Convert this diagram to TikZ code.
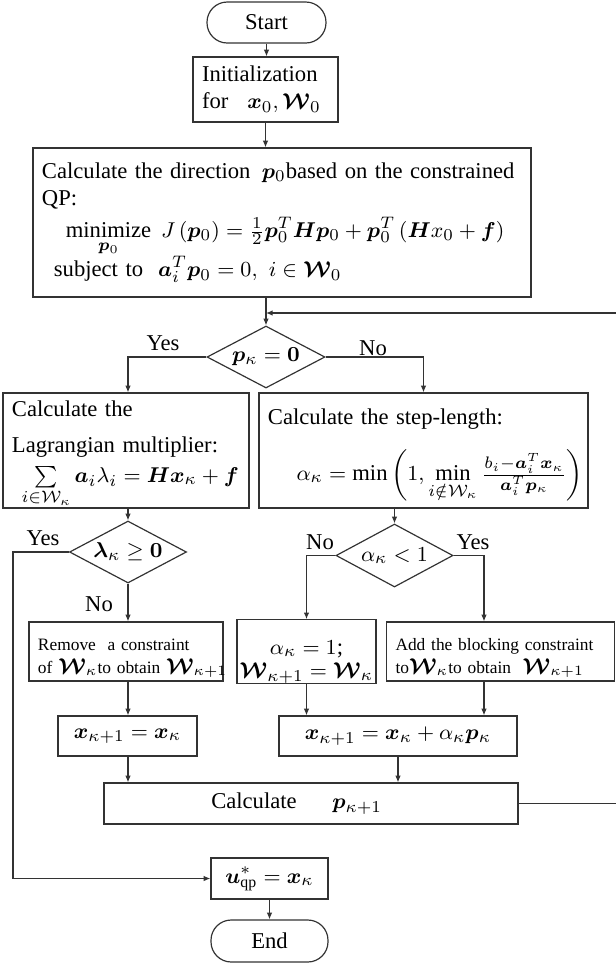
\documentclass[tikz,border=0pt]{standalone}
\usepackage{amsmath}
\usepackage{bm}
\usepackage{fontspec}
\setmainfont{Liberation Serif}
\usetikzlibrary{shapes.geometric,arrows.meta,calc}
\tikzset{
  base/.style={draw=black!80, line width=0.5pt, inner sep=0pt, font=\fontsize{9.5}{11.4}\selectfont},
  box/.style={base, rectangle},
  term/.style={base, rectangle, rounded corners=8.5pt},
  dec/.style={base, diamond, aspect=1.9},
  sz/.style 2 args={minimum width={#1*0.42pt}, minimum height={#2*0.42pt}},
  tw/.style 2 args={text width={(#1-18)*0.42pt}, inner xsep={9*0.42pt}, minimum height={#2*0.42pt}, align=left},
  smallfont/.style={font=\fontsize{7.3}{9.6}\selectfont},
  conn/.style={draw=black!80, line width=0.5pt, -{Latex[length=2.8pt,width=2.3pt]}},
  lab/.style={font=\fontsize{9.5}{11.4}\selectfont, inner sep=0pt}
}
\newcommand{\mbigw}[1]{{\fontsize{9}{9}\selectfont$#1$}}
\begin{document}
\begin{tikzpicture}[x=0.42pt,y=-0.42pt]
\useasboundingbox (0,0) rectangle (616,964);
\coordinate (fbrow) at (0,313);
\coordinate (fbx) at (622,0);
\coordinate (leftx) at (13,0);
\coordinate (ax) at (484,0);

\node[term, sz={119}{41}] (start) at (266.5,22.5) {Start};
\node[box, tw={145}{65}] (init) at (265.5,89.5) {\mbox{Initialization}\\\mbox{for\hspace{8pt}$\bm x_0,\bm{\mathcal W}_0$}};
\node[box, tw={498}{149}] (qp) at (282,222.5) {\mbox{Calculate the direction \,$\bm p_0$based on the constrained}\\QP:\\[2pt]
\mbox{\hspace*{10pt}$\underset{\bm p_0}{\text{minimize}}\;\, J\left(\bm p_0\right)=\tfrac12\bm p_0^T\bm H\bm p_0+\bm p_0^T\left(\bm Hx_0+\bm f\right)$}\\[-1pt]
\mbox{\hspace*{5pt}subject to \ $\bm a_i^T\bm p_0=0,\ i\in\bm{\mathcal W}_0$}};
\node[dec, sz={118}{62}] (d1) at (266,357) {$\bm p_\kappa=\bm 0$};

\node[box, tw={246}{115}] (lb) at (126,450.5) {\mbox{\rule{0pt}{9.5pt}Calculate the}\\[4pt]\mbox{Lagrangian multiplier:}\\[1pt]\mbox{\hspace*{4pt}$\sum\limits_{i\in\mathcal W_\kappa}\bm a_i\lambda_i=\bm H\bm x_\kappa+\bm f$}};
\node[box, tw={329}{115}] (rb) at (423.5,450.5) {\mbox{\rule{0pt}{10.4pt}Calculate the step-length:}\\[7.4pt]\mbox{\hspace*{12pt}$\displaystyle\alpha_\kappa=\min\left(1,\min_{i\notin\mathcal W_\kappa}\tfrac{b_i-\bm a_i^T\bm x_\kappa}{\bm a_i^T\bm p_\kappa}\right)$}};

\node[dec, sz={117}{62}] (d2) at (128,552) {$\bm\lambda_\kappa\geq\bm 0$};
\node[dec, sz={117}{63}] (d3) at (394.5,555.5) {$\alpha_\kappa<1$};

\node[box, tw={194}{59}, smallfont] (rm) at (126,651.5) {\mbox{\rule{0pt}{10.5pt}Remove\ \ a constraint}\\\mbox{of \mbigw{\bm{\mathcal W}_\kappa}to obtain \mbigw{\bm{\mathcal W}_{\kappa+1}}}};
\node[box, sz={139}{59}, align=center] (ab) at (306.5,651.5) {\rule{0pt}{14.5pt}$\alpha_\kappa=1$;\\[-1.5pt]$\bm{\mathcal W}_{\kappa+1}=\bm{\mathcal W}_\kappa$};
\node[box, tw={228}{59}, smallfont] (ad) at (500.5,651.5) {\mbox{\rule{0pt}{10.5pt}Add the blocking constraint}\\\mbox{to\mbigw{\bm{\mathcal W}_\kappa}to obtain \ \mbigw{\bm{\mathcal W}_{\kappa+1}}}};

\node[box, sz={139}{40}] (xs) at (127.5,736) {$\bm x_{\kappa+1}=\bm x_\kappa$};
\node[box, sz={238}{40}] (xb) at (398,736) {$\bm x_{\kappa+1}=\bm x_\kappa+\alpha_\kappa\bm p_\kappa$};
\node[box, sz={414}{41}] (calc) at (311,803.5) {Calculate\hspace{15pt}$\bm p_{\kappa+1}$\kern12pt\relax};
\node[box, sz={117}{41}] (u) at (269.5,878.5) {$\bm u^*_{\mathrm{qp}}=\bm x_\kappa$};
\node[term, sz={117}{42}] (end) at (269.5,941) {End};

\node[lab] (y1) at (163,343) {Yes};
\node[lab] (n1) at (373,348) {No};
\node[lab] (y2) at (43,538) {Yes};
\node[lab] (n2) at (99,604) {No};
\node[lab] (n3) at (320,542) {No};
\node[lab] (y3) at (473,542) {Yes};

\draw[conn] (start.south) -- (start.south |- init.north);
\draw[conn] (init.south) -- (init.south |- qp.north);
\draw[conn] (d1.north |- qp.south) -- (d1.north);
\draw[conn] (calc.east) -- (calc.east -| fbx) |- (d1.north |- fbrow);
\draw[conn] (d1.west) -| (d2.north |- lb.north);
\draw[conn] (d1.east) -| (rb.north);
\draw[conn] (d2.north |- lb.south) -- (d2.north);
\draw[conn] (d3.north |- rb.south) -- (d3.north);
\draw[conn] (d2.south) -- (d2.south |- rm.north);
\draw[conn] (d2.west) -- (d2.west -| leftx) |- (u.west);
\draw[conn] (d3.west) -| (ab.north);
\draw[conn] (d3.east) -| (ax |- ad.north);
\draw[conn] (d2.south |- rm.south) -- (d2.south |- xs.north);
\draw[conn] (ab.south) -- (ab.south |- xb.north);
\draw[conn] (ax |- ad.south) -- (ax |- xb.north);
\draw[conn] (d2.south |- xs.south) -- (d2.south |- calc.north);
\draw[conn] (xb.south) -- (xb.south |- calc.north);
\draw[conn] (u.south) -- (end.north);
\end{tikzpicture}
\end{document}
